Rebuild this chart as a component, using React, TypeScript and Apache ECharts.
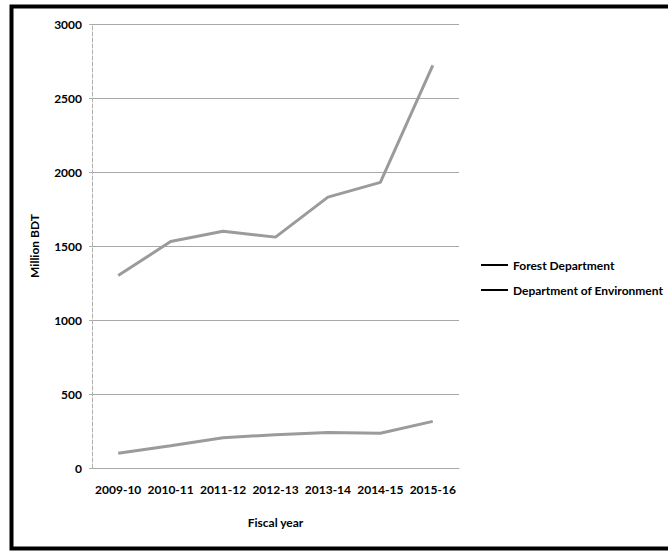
import React, { useEffect, useRef } from "react";
import * as echarts from "echarts";

const fiscalYears = ["2009-10", "2010-11", "2011-12", "2012-13", "2013-14", "2014-15", "2015-16"];
const forestDepartment = [1300, 1530, 1600, 1560, 1830, 1930, 2720];
const departmentOfEnvironment = [100, 150, 205, 225, 240, 235, 315];
const seriesNames = ["Forest Department", "Department of Environment"];

const FONT = "Lato, 'Noto Sans', sans-serif";

export default function App() {
  const ref = useRef<HTMLDivElement>(null);

  useEffect(() => {
    if (!ref.current) return;
    const chart = echarts.init(ref.current, undefined, { renderer: "svg" });
    const lineStyle = { color: "#9b9b9b", width: 3 };
    const txt = { fontFamily: FONT, fontWeight: "bold", fontSize: 12, color: "#000" };
    chart.setOption({
      animation: false,
      backgroundColor: "#ffffff",
      textStyle: txt,
      grid: { left: 92, right: 209, top: 24, bottom: 83, containLabel: false },
      legend: {
        data: seriesNames,
        orient: "vertical",
        left: 476,
        top: 254,
        icon: "rect",
        itemWidth: 27,
        itemHeight: 2,
        itemGap: 13,
        itemStyle: { color: "#000" },
        textStyle: txt,
      },
      xAxis: {
        type: "category",
        data: fiscalYears,
        boundaryGap: true,
        name: "Fiscal year",
        nameLocation: "middle",
        nameGap: 48,
        nameTextStyle: txt,
        axisLine: { lineStyle: { color: "#a8a8a8", width: 1 } },
        axisTick: { show: false },
        axisLabel: { ...txt, margin: 15, interval: 0 },
      },
      yAxis: {
        type: "value",
        min: 0,
        max: 3000,
        interval: 500,
        name: "Million BDT",
        nameLocation: "middle",
        nameGap: 52,
        nameRotate: 90,
        nameTextStyle: txt,
        axisLine: { show: true, lineStyle: { color: "#b0b0b0", width: 1, type: "dashed" } },
        axisTick: { show: true, length: 3, lineStyle: { color: "#b0b0b0" } },
        axisLabel: { ...txt, margin: 10, formatter: (v: number) => String(v) },
        splitLine: { show: true, lineStyle: { color: "#a8a8a8", width: 1 } },
      },
      series: [
        { name: seriesNames[0], type: "line", data: forestDepartment, symbol: "none", lineStyle, itemStyle: { color: "#9b9b9b" } },
        { name: seriesNames[1], type: "line", data: departmentOfEnvironment, symbol: "none", lineStyle, itemStyle: { color: "#9b9b9b" } },
      ],
      graphic: [
        {
          type: "rect",
          shape: { x: 11.5, y: 6.5, width: 680, height: 542 },
          style: { fill: "none", stroke: "#000", lineWidth: 4 },
          silent: true,
          z: 100,
        },
      ],
    });
    return () => chart.dispose();
  }, []);

  return (
    <div style={{ position: "fixed", left: 0, top: 0, width: 668, height: 551, background: "#fff" }}>
      <div ref={ref} style={{ width: 668, height: 551 }} />
    </div>
  );
}
